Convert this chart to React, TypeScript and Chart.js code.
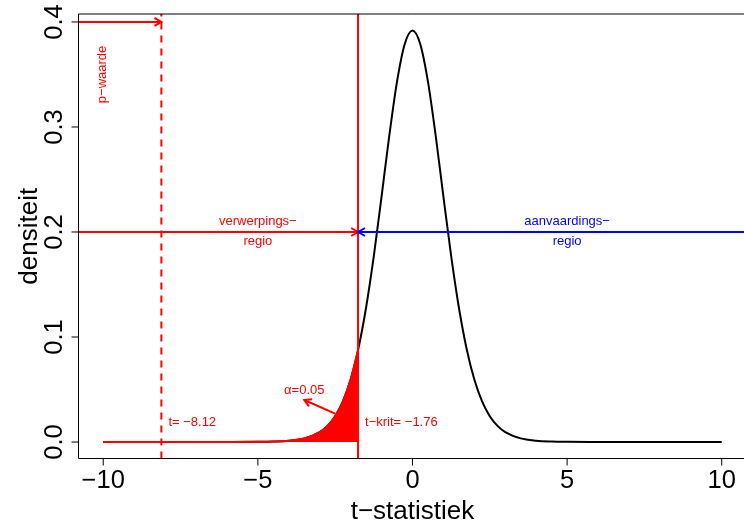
import React, { useEffect, useRef } from "react";
import { Chart, registerables } from "chart.js";

Chart.register(...registerables);

// ---- data ----
const tValues = [
  -10, -9, -8, -7, -6, -5, -4.5, -4, -3.5, -3, -2.75, -2.5, -2.25, -2, -1.76, -1.5, -1.25, -1,
  -0.75, -0.5, -0.25, 0, 0.25, 0.5, 0.75, 1, 1.25, 1.5, 1.75, 2, 2.25, 2.5, 2.75, 3, 3.5, 4,
  4.5, 5, 6, 7, 8, 9, 10,
];
const densityValues = [
  0.0, 0.0, 0.0, 0.00001, 0.00003, 0.00018, 0.00048, 0.0013, 0.0035, 0.0095, 0.0154, 0.0246,
  0.0387, 0.0595, 0.0875, 0.1281, 0.1772, 0.2336, 0.2917, 0.3432, 0.379, 0.3919, 0.379, 0.3432,
  0.2917, 0.2336, 0.1772, 0.1281, 0.0889, 0.0595, 0.0387, 0.0246, 0.0154, 0.0095, 0.0035, 0.0013,
  0.00048, 0.00018, 0.00003, 0.00001, 0.0, 0.0, 0.0,
];
const criticalT = -1.76;
const observedT = -8.12;

const xTicks = [-10, -5, 0, 5, 10];
const xTickLabels = ["\u221210", "\u22125", "0", "5", "10"];
const yTicks = [0, 0.1, 0.2, 0.3, 0.4];
const yTickLabels = ["0.0", "0.1", "0.2", "0.3", "0.4"];
const xLimits = [-10.8, 10.72];
const yLimits = [-0.01568, 0.40757];

const xTitle = "t\u2212statistiek";
const yTitle = "densiteit";

// arrows: start -> end (data coordinates)
const arrowFromX = [-10.8, -10.8, 10.8, -2.5];
const arrowFromY = [0.4, 0.2, 0.2, 0.027];
const arrowToX = [-8.12, -1.76, -1.76, -3.5];
const arrowToY = [0.4, 0.2, 0.2, 0.04];
const arrowIsBlue = [false, false, true, false];

// annotations
const noteTexts = [
  "p\u2212waarde",
  "verwerpings\u2212\nregio",
  "aanvaardings\u2212\nregio",
  "\u03b1=0.05",
  "t= \u22128.12",
  "t\u2212krit= \u22121.76",
];
const noteX = [-10, -5, 5, -3.5, -8.12, -1.76];
const noteY = [0.35, 0.2, 0.2, 0.05, 0.02, 0.02];
const noteIsBlue = [false, false, true, false, false, false];
const noteMode = ["rot", "center", "center", "center", "right", "right"];

const RED = "#FF0000";
const BLUE = "#0000FF";
const FONT = '"Liberation Sans", Arial, Helvetica, sans-serif';

const curvePoints = tValues.map((t, i) => ({ x: t, y: densityValues[i] }));
const tailPoints = tValues
  .map((t, i) => ({ x: t, y: densityValues[i] }))
  .filter((p) => p.x <= criticalT);

const overlayPlugin = {
  id: "rOverlay",
  afterDatasetsDraw(chart: any) {
    const { ctx, chartArea } = chart;
    const xs = chart.scales.x;
    const ys = chart.scales.y;
    const px = (v: number) => xs.getPixelForValue(v);
    const py = (v: number) => ys.getPixelForValue(v);

    // arrows (clipped to plot region)
    ctx.save();
    ctx.beginPath();
    ctx.rect(chartArea.left, chartArea.top, chartArea.right - chartArea.left, chartArea.bottom - chartArea.top);
    ctx.clip();
    ctx.lineWidth = 2;
    ctx.lineCap = "butt";
    for (let i = 0; i < arrowFromX.length; i++) {
      const x0 = px(arrowFromX[i]);
      const y0 = py(arrowFromY[i]);
      const x1 = px(arrowToX[i]);
      const y1 = py(arrowToY[i]);
      ctx.strokeStyle = arrowIsBlue[i] ? BLUE : RED;
      ctx.beginPath();
      ctx.moveTo(x0, y0);
      ctx.lineTo(x1, y1);
      const ang = Math.atan2(y1 - y0, x1 - x0);
      const len = 8;
      const spread = Math.PI / 6;
      ctx.moveTo(x1 - len * Math.cos(ang - spread), y1 - len * Math.sin(ang - spread));
      ctx.lineTo(x1, y1);
      ctx.lineTo(x1 - len * Math.cos(ang + spread), y1 - len * Math.sin(ang + spread));
      ctx.stroke();
    }
    ctx.restore();

    // annotation texts
    ctx.save();
    ctx.font = `13px ${FONT}`;
    ctx.textBaseline = "alphabetic";
    for (let i = 0; i < noteTexts.length; i++) {
      ctx.fillStyle = noteIsBlue[i] ? BLUE : RED;
      const x = px(noteX[i]);
      const y = py(noteY[i]);
      const mode = noteMode[i];
      if (mode === "rot") {
        ctx.save();
        ctx.translate(x + 3, y);
        ctx.rotate(-Math.PI / 2);
        ctx.textAlign = "center";
        ctx.fillText(noteTexts[i], 0, 0);
        ctx.restore();
      } else if (mode === "right") {
        ctx.textAlign = "left";
        ctx.fillText(noteTexts[i], x + 7, y + 4.5);
      } else {
        ctx.textAlign = "center";
        const lines = noteTexts[i].split("\n");
        if (lines.length === 1) {
          ctx.fillText(lines[0], x, y + 4.5);
        } else {
          ctx.fillText(lines[0], x, y - 6.5);
          ctx.fillText(lines[1], x, y + 13.5);
        }
      }
    }
    ctx.restore();

    // box + axes
    ctx.save();
    ctx.strokeStyle = "#000000";
    ctx.lineWidth = 1;
    ctx.beginPath();
    ctx.moveTo(chartArea.left, chartArea.top);
    ctx.lineTo(chartArea.right + 2, chartArea.top);
    ctx.moveTo(chartArea.left, chartArea.top);
    ctx.lineTo(chartArea.left, chartArea.bottom);
    ctx.lineTo(chartArea.right + 2, chartArea.bottom);
    ctx.stroke();

    ctx.beginPath();
    xTicks.forEach((v) => {
      const x = px(v);
      ctx.moveTo(x, chartArea.bottom);
      ctx.lineTo(x, chartArea.bottom + 7);
    });
    yTicks.forEach((v) => {
      const y = py(v);
      ctx.moveTo(chartArea.left, y);
      ctx.lineTo(chartArea.left - 7, y);
    });
    ctx.stroke();

    ctx.fillStyle = "#000000";
    ctx.font = `25.5px ${FONT}`;
    ctx.textAlign = "center";
    ctx.textBaseline = "alphabetic";
    xTicks.forEach((v, i) => {
      ctx.fillText(xTickLabels[i], px(v), chartArea.bottom + 29);
    });
    yTicks.forEach((v, i) => {
      ctx.save();
      ctx.translate(chartArea.left - 16.5, py(v));
      ctx.rotate(-Math.PI / 2);
      ctx.fillText(yTickLabels[i], 0, 0);
      ctx.restore();
    });

    ctx.font = `26px ${FONT}`;
    ctx.fillText(xTitle, px(0), chartArea.bottom + 60.5);
    ctx.save();
    ctx.translate(chartArea.left - 41.5, (chartArea.top + chartArea.bottom) / 2);
    ctx.rotate(-Math.PI / 2);
    ctx.fillText(yTitle, 0, 0);
    ctx.restore();
    ctx.restore();
  },
};

export default function App() {
  const ref = useRef<HTMLCanvasElement>(null);

  useEffect(() => {
    if (!ref.current) return;
    const chart = new Chart(ref.current, {
      type: "scatter",
      data: {
        datasets: [
          {
            label: "kritieke grens",
            data: [
              { x: criticalT, y: yLimits[0] },
              { x: criticalT, y: yLimits[1] },
            ],
            showLine: true,
            borderColor: RED,
            borderWidth: 2,
            pointRadius: 0,
            order: 1,
          },
          {
            label: "toetsingsgrootheid",
            data: [
              { x: observedT, y: yLimits[0] },
              { x: observedT, y: yLimits[1] },
            ],
            showLine: true,
            borderColor: RED,
            borderWidth: 2,
            borderDash: [7, 6],
            pointRadius: 0,
            order: 1,
          },
          {
            label: "alpha",
            data: tailPoints,
            showLine: true,
            borderColor: RED,
            backgroundColor: RED,
            borderWidth: 2,
            fill: "origin",
            cubicInterpolationMode: "monotone",
            pointRadius: 0,
            order: 2,
          },
          {
            label: "t-verdeling",
            data: curvePoints,
            showLine: true,
            borderColor: "#000000",
            borderWidth: 2,
            fill: false,
            cubicInterpolationMode: "monotone",
            pointRadius: 0,
            order: 3,
          },
        ],
      },
      options: {
        responsive: false,
        animation: false,
        devicePixelRatio: 1,
        layout: { padding: { left: 78.5, top: 14, right: 0, bottom: 65.5 } },
        plugins: { legend: { display: false }, tooltip: { enabled: false } },
        events: [],
        scales: {
          x: { type: "linear", min: xLimits[0], max: xLimits[1], display: false },
          y: { type: "linear", min: yLimits[0], max: yLimits[1], display: false },
        },
      },
      plugins: [overlayPlugin],
    } as any);
    return () => chart.destroy();
  }, []);

  return (
    <div style={{ position: "absolute", left: 0, top: 0, width: 744, height: 524, background: "#ffffff", overflow: "hidden" }}>
      <canvas ref={ref} width={744} height={524} style={{ display: "block", width: 744, height: 524 }} />
    </div>
  );
}
